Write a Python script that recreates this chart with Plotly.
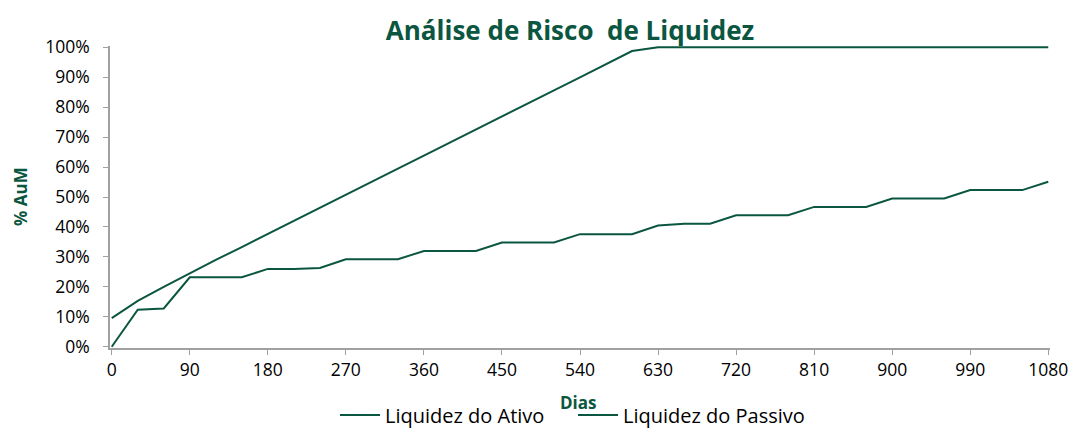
import plotly.graph_objects as go

dias = list(range(0, 1081, 30))

liquidez_ativo = [0.096, 0.153, 0.200, 0.246, 0.290, 0.333, 0.377, 0.421, 0.464, 0.508,
                  0.551, 0.595, 0.638, 0.682, 0.726, 0.769, 0.813, 0.856, 0.899, 0.943,
                  0.987, 1.000, 1.000, 1.000, 1.000, 1.000, 1.000, 1.000, 1.000, 1.000,
                  1.000, 1.000, 1.000, 1.000, 1.000, 1.000, 1.000]

liquidez_passivo = [0.000, 0.124, 0.128, 0.232, 0.232, 0.232, 0.260, 0.260, 0.263, 0.292,
                    0.292, 0.292, 0.320, 0.320, 0.320, 0.348, 0.348, 0.348, 0.376, 0.376,
                    0.376, 0.405, 0.411, 0.411, 0.439, 0.439, 0.439, 0.467, 0.467, 0.467,
                    0.495, 0.495, 0.495, 0.523, 0.523, 0.523, 0.551]

x_ticks = list(range(0, 1081, 90))
y_ticks = [i / 10 for i in range(0, 11)]

GREEN = "#0B5640"
FONT = "Open Sans"

fig = go.Figure()
fig.add_trace(go.Scatter(x=dias, y=liquidez_ativo, mode="lines", name="Liquidez do Ativo",
                         line=dict(color=GREEN, width=2)))
fig.add_trace(go.Scatter(x=dias, y=liquidez_passivo, mode="lines", name="Liquidez do Passivo",
                         line=dict(color=GREEN, width=2)))

fig.update_layout(
    width=1073, height=428,
    margin=dict(l=110, r=23, t=46, b=80, autoexpand=False),
    paper_bgcolor="white", plot_bgcolor="white",
    font=dict(family=FONT, size=17, color="black"),
    title=dict(text="<b>Análise de Risco  de Liquidez</b>", x=570 / 1073, xref="container",
               xanchor="center", y=1 - 31 / 428, yref="container", yanchor="middle",
               font=dict(family=FONT, size=26, color=GREEN)),
    showlegend=True,
    legend=dict(orientation="h", x=335 / 1073, xref="container", xanchor="left",
                y=13 / 428, yref="container", yanchor="middle",
                font=dict(family=FONT, size=20, color="black"), itemwidth=40,
                entrywidth=183, entrywidthmode="pixels",
                tracegroupgap=0, bgcolor="rgba(0,0,0,0)"),
    xaxis=dict(range=[-2, 1082], tickvals=x_ticks, ticktext=[str(v) for v in x_ticks],
               automargin=False,
               showgrid=False, zeroline=False, showline=True, linecolor="#A0A0A0",
               linewidth=1.5, ticks="outside", ticklen=5, tickcolor="#A0A0A0",
               tickfont=dict(family=FONT, size=17.5, color="black")),
    yaxis=dict(range=[-0.004, 1.004], tickvals=y_ticks, tickformat=".0%",
               automargin=False,
               showgrid=False, zeroline=False, showline=True, linecolor="#A0A0A0",
               linewidth=1.5, ticks="outside", ticklen=5, tickcolor="#A0A0A0",
               ticklabelstandoff=10,
               tickfont=dict(family=FONT, size=17.5, color="black")),
    annotations=[
        dict(text="<b>Dias</b>", xref="paper", yref="paper", x=(578 - 110) / 940,
             y=(347 - 401) / 300, xanchor="center", yanchor="middle", showarrow=False,
             font=dict(family=FONT, size=17, color=GREEN)),
        dict(text="<b>% AuM</b>", xref="paper", yref="paper", x=(20 - 110) / 940,
             y=(347 - 197) / 300, xanchor="center", yanchor="middle", showarrow=False,
             textangle=-90, font=dict(family=FONT, size=17, color=GREEN)),
    ],
)

fig.write_html("out.html", config={"displayModeBar": False},
               post_script="document.body.style.margin='0';")
